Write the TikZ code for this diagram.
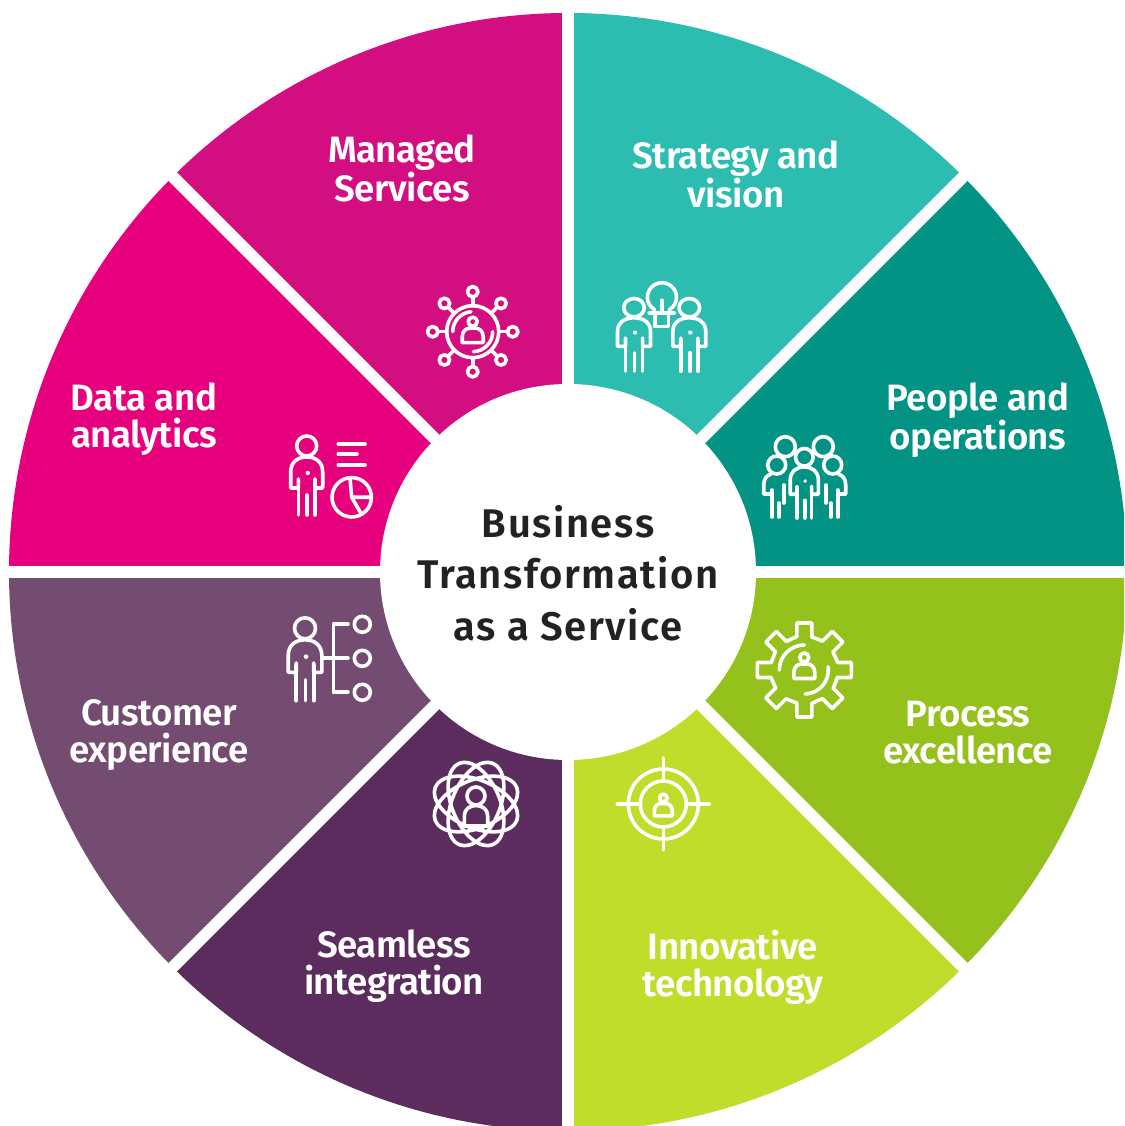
\documentclass[tikz,border=0pt]{standalone}
\usepackage{fontspec}
\setmainfont{Fira Sans}[BoldFont={Fira Sans SemiBold},BoldFeatures={LetterSpace=-1.5}]
\newfontfamily\centerfont{Fira Sans SemiBold}[LetterSpace=4]
\definecolor{cMan}{HTML}{D30E80}
\definecolor{cStr}{HTML}{2CBCB0}
\definecolor{cPeo}{HTML}{029384}
\definecolor{cPro}{HTML}{95C11C}
\definecolor{cInn}{HTML}{C0DD2B}
\definecolor{cSea}{HTML}{5B2C5D}
\definecolor{cCus}{HTML}{744B71}
\definecolor{cDat}{HTML}{E6007E}
\definecolor{cTxt}{HTML}{222222}
\tikzset{
  sector/.style={draw=none},
  gapline/.style={draw=white,line width=9pt},
  label/.style={text=white,align=center,font=\bfseries\fontsize{27.5}{28}\selectfont,inner sep=0pt},
  icon/.style={draw=white,line width=2.7pt,line cap=round,line join=round},
}
\newcommand{\personbody}{%
  \draw[icon] (0,0) circle (10);
  \draw[icon] (-8.3,-33) -- (-8.3,-42) -- (-16,-42) -- (-16,-26)
     .. controls (-16,-16) and (-9,-11) .. (0,-11)
     .. controls (9,-11) and (16,-16) .. (16,-26) -- (16,-42) -- (8.3,-42) -- (8.3,-33);
  \draw[icon] (-8.3,-36) -- (-8.3,-69);
  \draw[icon] (8.3,-36) -- (8.3,-69);
  \draw[icon] (0.5,-49) -- (0.5,-69);
  \fill[white] (1,-27) circle (2.2);
}
\newcommand{\miniperson}{%
  \draw[icon] (0,0) circle (4.5);
  \draw[icon] (-10.5,-21) -- (-10.5,-15) .. controls (-10.5,-9) and (-6,-6.5) .. (-3,-6.5) -- (3,-6.5)
     .. controls (6,-6.5) and (10.5,-9) .. (10.5,-15) -- (10.5,-21) -- cycle;
}
\newcommand{\sideperson}{%
  \draw[icon] (0,0) circle (9);
  \draw[icon] (7,-38) -- (7,-20);
  \draw[icon] (-5,-25) -- (-5,-37) -- (-5,-52);
  \draw[icon] (2,-38) -- (2,-52);
  \draw[icon] (-6,-9.5) .. controls (-10,-10) and (-13,-14) .. (-13,-20) -- (-13,-29) -- (-5,-29);
}
\begin{document}
\begin{tikzpicture}[x=0.75pt,y=0.75pt]
\useasboundingbox (0,0) rectangle (1124,1126);
\clip (0,0) rectangle (1124,1126);
\coordinate (C) at (568,554);
% sectors
\foreach \a/\b/\c in {90/135/cMan,45/90/cStr,0/45/cPeo,-45/0/cPro,-90/-45/cInn,-135/-90/cSea,-180/-135/cCus,135/180/cDat}
  \fill[\c,sector] (C) -- ++(\a:559) arc (\a:\b:559) -- cycle;
% gaps
\foreach \a in {0,45,90,135}{
  \draw[gapline] (C) ++(\a:600) -- ++(\a+180:1200);
}
\fill[white] (C) circle (188);
% labels
\node[label] (managed) at (402,1126-168.5) {Managed\\Services};
\node[label] (strategy) at (736,1126-174.5) {Strategy and\\vision};
\node[label] (people) at (978,1126-420) {People and\\operations};
\node[label] (process) at (968,1126-732.5) {Process\\excellence};
\node[label] (innov) at (733,1126-967) {Innovative\\technology};
\node[label] (seamless) at (394,1126-966) {Seamless\\integration};
\node[label] (customer) at (159,1126-735) {Customer\\experience};
\node[label] (data) at (144,1126-419) {Data and\\analytics};
\node[text=cTxt,align=center,inner sep=0pt,font=\centerfont\fontsize{30}{38.5}\selectfont,
      ] (centre) at (568,1126-573) {Business\\Transformation\\as a Service};
% Managed services icon
\begin{scope}[shift={(472.7,1126-331.7)}]
  \draw[icon] (0,0) circle (26);
  \foreach \k in {0,45,...,315}{
    \draw[icon] (\k:26) -- (\k:34.5);
    \draw[icon] (\k:40) circle (5.2);
  }
  \draw[icon] (180:20) arc (180:95:20);
  \draw[icon] (0:20) arc (0:-88:20);
  \begin{scope}[shift={(0,10)}]\miniperson\end{scope}
\end{scope}
% Strategy icon
\begin{scope}[shift={(634,1126-307.7)},xscale=1.03,yscale=0.92]\personbody\end{scope}
\begin{scope}[shift={(689.3,1126-307.7)},xscale=1.03,yscale=0.92]\personbody\end{scope}
\begin{scope}[shift={(661.7,1126-297.3)}]
  \draw[icon] (-7,-12.5) arc (240:-60:14.5);
  \draw[icon] (-12.5,-16) -- (12.5,-16);
  \draw[icon] (0,-3) -- (0,-16);
  \draw[icon] (-6.7,-16) -- (-6.7,-29.4) -- (6.7,-29.4) -- (6.7,-16);
\end{scope}
% People icon
\begin{scope}[shift={(785.3,1126-446.7)}]\draw[icon] (0,0) circle (10);\end{scope}
\begin{scope}[shift={(823.3,1126-446.7)}]\draw[icon] (0,0) circle (10);\end{scope}
\begin{scope}[shift={(804.3,1126-457.3)},scale=0.88]\fill[cPeo] (0,0) circle (10);\personbody\end{scope}
\begin{scope}[shift={(776.7,1126-465)}]\sideperson\end{scope}
\begin{scope}[shift={(832.7,1126-465)},xscale=-1]\sideperson\end{scope}
% Data icon
\begin{scope}[shift={(306.7,1126-446)}]\personbody\end{scope}
\draw[icon] (338.3,1126-444) -- (365,1126-444);
\draw[icon] (338.3,1126-454.3) -- (357,1126-454.3);
\draw[icon] (338.3,1126-465) -- (365,1126-465);
\begin{scope}[shift={(351.7,1126-497.3)}]
  \draw[icon] (0,0) circle (19.7);
  \draw[icon] (95:19.7) -- (0,0) -- (0:19.7);
  \draw[icon] (0,0) -- (-60:19.7);
\end{scope}
% Customer icon
\begin{scope}[shift={(305,1126-628.3)},scale=1.05]\personbody\end{scope}
\foreach \yy in {624.3,658.3,692.3}
  \draw[icon] (362.3,1126-\yy) circle (8);
\draw[icon] (348,1126-624.3) -- (333.3,1126-624.3) -- (333.3,1126-692.3) -- (348,1126-692.3);
\draw[icon] (323.3,1126-658.3) -- (348,1126-658.3);
% Process icon
\begin{scope}[shift={(804.3,1126-670)}]
  \foreach \k in {0,45,...,315}{
    \draw[icon,rotate=\k] (-7.5,33) -- (-7.5,47) -- (7.5,47) -- (7.5,33) -- (17.3,29.3);
  }
  \draw[icon] (180:25) arc (180:90:25);
  \draw[icon] (8:24) arc (8:-88:24);
  \begin{scope}[shift={(0,12.5)}]\miniperson\end{scope}
\end{scope}
% Innovative icon
\begin{scope}[shift={(663.3,1126-804)}]
  \draw[icon] (0,0) circle (35);
  \draw[icon] (0,0) circle (23);
  \foreach \k in {0,90,180,270}
    \draw[icon] (\k:23) -- (\k:46);
  \begin{scope}[shift={(0,6)},scale=0.85]\miniperson\end{scope}
\end{scope}
% Seamless icon
\begin{scope}[shift={(476,1126-804)}]
  \foreach \k in {22.5,67.5,112.5,157.5}
    \draw[icon,rotate=\k] (0,0) ellipse (44 and 24);
  \draw[icon] (0,8) circle (9);
  \draw[icon] (-11.7,-22) -- (-11.7,-12) .. controls (-11.7,-5) and (-6,-1.5) .. (0,-1.5)
     .. controls (6,-1.5) and (11.7,-5) .. (11.7,-12) -- (11.7,-22) -- cycle;
\end{scope}
\end{tikzpicture}
\end{document}
